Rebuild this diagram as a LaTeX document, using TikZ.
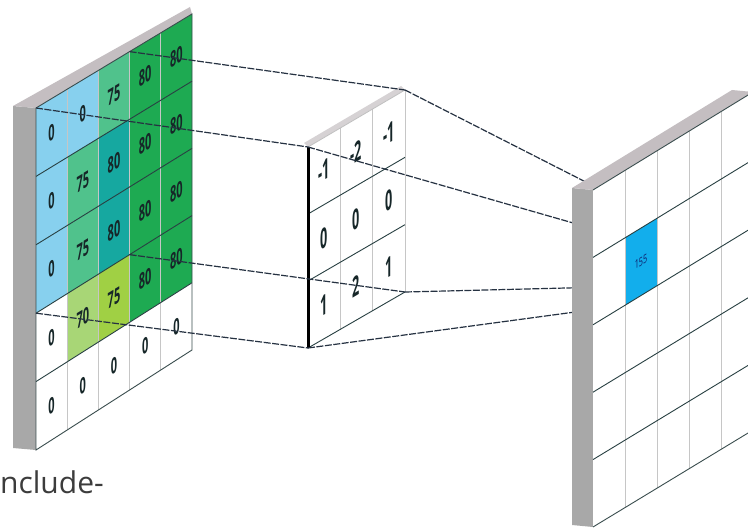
\documentclass[tikz,border=0pt]{standalone}
\usepackage{fontspec}
\setsansfont{Open Sans}
\usetikzlibrary{calc}
\definecolor{lb}{RGB}{135,208,238}
\definecolor{tg}{RGB}{80,194,140}
\definecolor{tl}{RGB}{22,168,160}
\definecolor{gr}{RGB}{30,170,82}
\definecolor{lg}{RGB}{168,214,118}
\definecolor{yg}{RGB}{160,208,68}
\definecolor{sidegray}{RGB}{168,168,168}
\definecolor{topgray}{RGB}{196,190,193}
\definecolor{cellblue}{RGB}{18,174,236}
\definecolor{connc}{RGB}{38,50,66}
\definecolor{numc}{RGB}{22,38,40}
\definecolor{rowc}{RGB}{40,64,66}
\definecolor{txtc}{RGB}{60,60,60}
\newcommand{\mkgrid}[7]{%
  \foreach \i in {0,...,#6}{\foreach \j in {0,...,#7}{%
    \coordinate (#1-\i-\j) at ($($(#2)!\i/#6!(#3)$)!\j/#7!($(#4)!\i/#6!(#5)$)$);
  }}}
\tikzset{
  conn/.style={draw=connc, line width=1.2pt, dash pattern=on 7pt off 1.5pt},
  rowline/.style={draw=rowc, line width=0.9pt},
  colline/.style={draw=gray!45, line width=0.7pt},
  edgeline/.style={draw=rowc!80!gray, line width=0.9pt},
  lnum/.style={font=\sffamily\bfseries\fontsize{22}{22}\selectfont, text=numc, inner sep=0pt, yslant=0.6, xscale=0.5},
  fnum/.style={font=\sffamily\bfseries\fontsize{28}{28}\selectfont, text=numc, inner sep=0pt, yslant=0.6, xscale=0.45},
  rnum/.style={font=\sffamily\fontsize{12}{12}\selectfont, text=numc!70!blue, inner sep=0pt, yslant=0.6, xscale=0.6}
}
\begin{document}
\begin{tikzpicture}[x=1pt,y=-1pt]
\useasboundingbox (0,0) rectangle (748,532);
\clip (0,0) rectangle (748,532);
\fill[white] (0,0) rectangle (748,532);
% ---------- left panel ----------
\coordinate (LTL) at (36,108);
\coordinate (LTR) at (192,14);
\coordinate (LBL) at (36,450);
\coordinate (LBR) at (192,350);
\mkgrid{L}{LTL}{LTR}{LBL}{LBR}{5}{5}
\fill[sidegray] ($(L-0-0)+(-23,-2)$) -- (L-0-0) -- (L-0-5) -- ($(L-0-5)+(-23,-2)$) -- cycle;
\fill[topgray] ($(L-0-0)+(-23,-2)$) -- (L-0-0) -- (L-5-0) -- ($(L-5-0)+(-2,-7)$) -- cycle;
\foreach \c/\n [count=\k from 0] in {lb/0,lb/0,tg/75,gr/80,gr/80,
  lb/0,tg/75,tl/80,gr/80,gr/80,
  lb/0,tg/75,tl/80,gr/80,gr/80,
  white/0,lg/70,yg/75,gr/80,gr/80,
  white/0,white/0,white/0,white/0,white/0}{
  \pgfmathtruncatemacro\ci{mod(\k,5)}
  \pgfmathtruncatemacro\cj{div(\k,5)}
  \pgfmathtruncatemacro\cii{\ci+1}
  \pgfmathtruncatemacro\cjj{\cj+1}
  \fill[\c] (L-\ci-\cj) -- (L-\cii-\cj) -- (L-\cii-\cjj) -- (L-\ci-\cjj) -- cycle;
  \node[lnum] (ln-\ci-\cj) at ($(L-\ci-\cj)!0.5!(L-\cii-\cjj)$) {\n};
}
\foreach \i in {1,...,4} \draw[colline] (L-\i-0) -- (L-\i-5);
\foreach \j in {1,...,4} \draw[rowline] (L-0-\j) -- (L-5-\j);
\draw[edgeline] (L-0-0) -- (L-5-0) -- (L-5-5) -- (L-0-5) -- cycle;
% ---------- filter ----------
\coordinate (FTL) at (308,147);
\coordinate (FTR) at (405,90);
\coordinate (FBL) at (308,348);
\coordinate (FBR) at (405,292);
\mkgrid{F}{FTL}{FTR}{FBL}{FBR}{3}{3}
\fill[topgray!70] ($(F-0-0)+(-4,-4)$) -- (F-0-0) -- (F-3-0) -- ($(F-3-0)+(-4,-4)$) -- cycle;
\fill[white] (F-0-0) -- (F-3-0) -- (F-3-3) -- (F-0-3) -- cycle;
\foreach \n [count=\k from 0] in {-1,-2,-1,0,0,0,1,2,1}{
  \pgfmathtruncatemacro\ci{mod(\k,3)}
  \pgfmathtruncatemacro\cj{div(\k,3)}
  \pgfmathtruncatemacro\cii{\ci+1}
  \pgfmathtruncatemacro\cjj{\cj+1}
  \node[fnum] (fn-\ci-\cj) at ($(F-\ci-\cj)!0.5!(F-\cii-\cjj)$) {\n};
}
\foreach \i in {1,2,3} \draw[colline] (F-\i-0) -- (F-\i-3);
\foreach \j in {1,2} \draw[rowline] (F-0-\j) -- (F-3-\j);
\draw[rowline] (F-0-3) -- (F-3-3);
\draw[gray!50, line width=0.8pt] (F-0-0) -- (F-3-0);
\draw[black, line width=3pt] (F-0-0) -- (F-0-3);
% ---------- right panel coordinates ----------
\coordinate (RTL) at (593,190);
\coordinate (RTR) at (753,92);
\coordinate (RBL) at (593,527);
\coordinate (RBR) at (753,430);
\mkgrid{R}{RTL}{RTR}{RBL}{RBR}{5}{5}
% ---------- connectors ----------
\draw[conn] (L-0-0) -- (F-0-0);
\draw[conn] (L-3-0) -- (F-3-0);
\draw[conn] (L-0-3) -- (F-0-3);
\draw[conn] (L-3-3) -- (F-3-3);
\draw[conn] (F-0-0) -- (R-1-1);
\draw[conn] (F-3-0) -- (R-2-1);
\draw[conn] (F-0-3) -- (R-1-2);
\draw[conn] (F-3-3) -- (R-2-2);
% ---------- right panel ----------
\fill[sidegray] ($(R-0-0)+(-21,-2)$) -- (R-0-0) -- (R-0-5) -- ($(R-0-5)+(-21,-2)$) -- cycle;
\fill[topgray] ($(R-0-0)+(-21,-2)$) -- (R-0-0) -- (R-5-0) -- ($(R-5-0)+(-21,-2)$) -- cycle;
\fill[white] (R-0-0) -- (R-5-0) -- (R-5-5) -- (R-0-5) -- cycle;
\fill[cellblue] (R-1-1) -- (R-2-1) -- (R-2-2) -- (R-1-2) -- cycle;
\node[rnum] (out) at ($(R-1-1)!0.5!(R-2-2)$) {155};
\foreach \i in {1,...,4} \draw[colline] (R-\i-0) -- (R-\i-5);
\foreach \j in {1,...,4} \draw[rowline] (R-0-\j) -- (R-5-\j);
\draw[edgeline] (R-0-0) -- (R-5-0);
\draw[edgeline] (R-0-5) -- (R-5-5);
% ---------- caption fragment ----------
\node[anchor=base west, inner sep=0pt, font=\sffamily\fontsize{30}{30}\selectfont, text=txtc] (cap) at (0,493) {nclude-};
\end{tikzpicture}
\end{document}
